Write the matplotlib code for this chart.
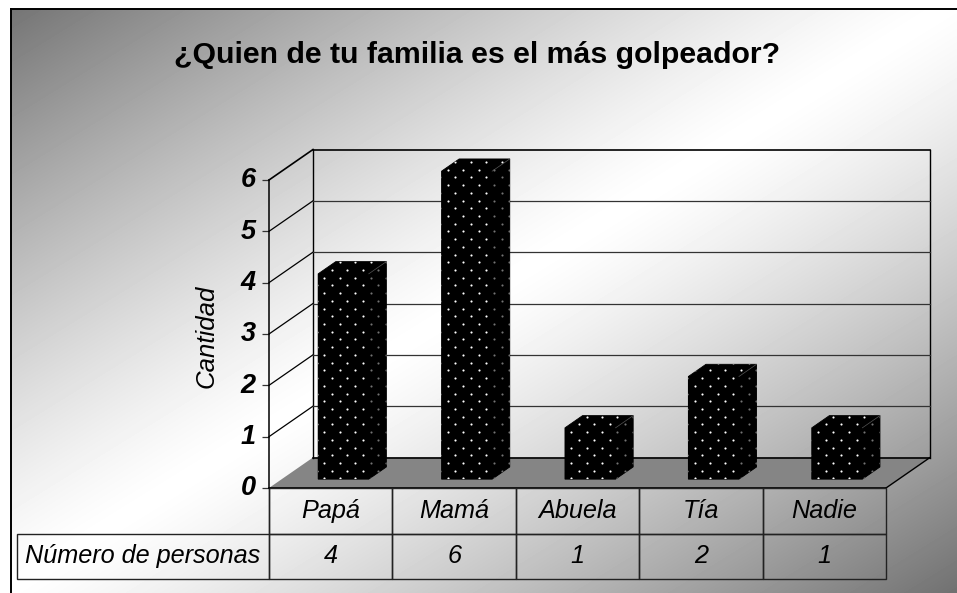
# coding=utf-8
import matplotlib
matplotlib.use('Agg')
import matplotlib.pyplot as plt
import matplotlib.transforms as mtrans
import numpy as np
from matplotlib.patches import Polygon

plt.rcParams['font.family'] = ['Liberation Sans', 'DejaVu Sans']

categories = ['Papá', 'Mamá', 'Abuela', 'Tía', 'Nadie']
values = [4, 6, 1, 2, 1]
row_label = 'Número de personas'
title = '¿Quien de tu familia es el más golpeador?'
y_label = 'Cantidad'
y_ticks = [0, 1, 2, 3, 4, 5, 6]

W, H = 957, 593
fig = plt.figure(figsize=(W / 100, H / 100), dpi=100, facecolor='white')

# background gradient, dark corners top left / bottom right, white across the middle
bg = fig.add_axes([10.5 / W, 0, (W - 10.5) / W, 1 - 8.5 / H])
yy, xx = np.mgrid[8:H, 10:W]
t = np.abs((xx / W + yy / H) - 1.0)
bg.imshow(1 - 0.56 * t ** 1.25, cmap='gray', vmin=0, vmax=1, aspect='auto')
bg.set_xticks([])
bg.set_yticks([])
for s in ['right', 'bottom']:
    bg.spines[s].set_visible(False)
for s in ['left', 'top']:
    bg.spines[s].set_linewidth(1.4)

# axes = front plane of the 3d box
left, right, y0, y6 = 269, 886, 488, 180
ax = fig.add_axes([left / W, 1 - y0 / H, (right - left) / W, (y0 - y6) / H])
ax.patch.set_visible(False)
ax.set_xlim(0, len(categories))
ax.set_ylim(0, 6)
for s in ['top', 'right', 'bottom']:
    ax.spines[s].set_visible(False)
ax.spines['left'].set_linewidth(1.1)
ax.spines['left'].set_bounds(0, 6)

# depth of the box in data units
DX = 44 / ((right - left) / len(categories))
DY = 30.5 / ((y0 - y6) / 6)


def pt(x, y, d):
    return (x + d * DX, y + d * DY)


# floor
ax.add_patch(Polygon([pt(0, 0, 0), pt(5, 0, 0), pt(5, 0, 1), pt(0, 0, 1)], fc='#858585', ec='none', clip_on=False))
ax.plot(*zip(pt(0, 0, 0), pt(5, 0, 0)), color='black', lw=1.2, clip_on=False)
ax.plot(*zip(pt(5, 0, 0), pt(5, 0, 1)), color='black', lw=1, clip_on=False)
ax.plot(*zip(pt(0, 0, 1), pt(5, 0, 1)), color='black', lw=1.2, clip_on=False)
# walls
ax.plot(*zip(pt(0, 0, 1), pt(0, 6, 1)), color='black', lw=1, clip_on=False)
ax.plot(*zip(pt(5, 0, 1), pt(5, 6, 1)), color='black', lw=1, clip_on=False)
for v in y_ticks[1:]:
    lw = 1.2 if v == 6 else 0.9
    c = 'black' if v == 6 else '#333333'
    ax.plot(*zip(pt(0, v, 0), pt(0, v, 1)), color='black', lw=0.9 if v < 6 else 1.2, clip_on=False)
    ax.plot(*zip(pt(0, v, 1), pt(5, v, 1)), color=c, lw=lw, clip_on=False)

# bars
w = 0.41
d0, d1 = 0.29, 0.69
xs = np.arange(len(categories)) + 0.5 - w / 2
ax.bar(xs + d0 * DX, values, w, bottom=d0 * DY, align='edge', color='black', zorder=3, clip_on=False)

# dot texture, fixed lattice in figure pixels
lx = np.arange(0, W, 15.43) + 324.3 % 15.43
ly = np.arange(0, H, 15.44) + 277.7 % 15.44
gx, gy = np.meshgrid(lx, ly)
dots = np.vstack([np.c_[gx.ravel(), gy.ravel()], np.c_[gx.ravel() + 7.72, gy.ravel() + 7.72]])
dots = np.c_[dots[:, 0], H - dots[:, 1]]

for x, v in zip(xs, values):
    x1 = x + w
    shape = Polygon([pt(x, 0, d0), pt(x1, 0, d0), pt(x1, 0, d1), pt(x1, v, d1), pt(x, v, d1), pt(x, v, d0)],
                    fc='black', ec='black', lw=0.6, zorder=3, clip_on=False)
    ax.add_patch(shape)
    sc = ax.scatter(dots[:, 0], dots[:, 1], s=2.4, c='white', linewidths=0, zorder=4, transform=None)
    sc.set_clip_path(shape)
    # the side face is darker
    side = Polygon([pt(x1, 0, d0), pt(x1, 0, d1), pt(x1, v, d1), pt(x1, v, d0)], fc='black', alpha=0.55, ec='none',
                   zorder=5, clip_on=False)
    ax.add_patch(side)
    ax.plot(*zip(pt(x1, v, d0), pt(x1, v, d1)), color='#555555', lw=0.5, zorder=6, clip_on=False)

ax.set_xticks([])
ax.set_yticks(y_ticks)
ax.set_yticklabels([str(i) for i in y_ticks], fontsize=19.5, fontweight='bold', fontstyle='italic')
ax.tick_params(axis='y', length=5, width=0.9, color='#333333', pad=4.5)
ax.set_xlim(0, len(categories))
ax.set_ylim(0, 6)
# labels sit a little above their ticks
shift = mtrans.ScaledTranslation(0, 2 / 72, fig.dpi_scale_trans)
for lab in ax.get_yticklabels():
    lab.set_transform(lab.get_transform() + shift)

fig.text(207 / W, 1 - 336 / H, y_label, rotation=90, ha='center', va='center', fontsize=18.5, fontstyle='italic')
fig.text(477 / W, 1 - 55 / H, title, ha='center', va='center', fontsize=21.8, fontweight='bold')

# data table under the chart
label_w = (left - 17) / (right - left)
tbl_h = (579 - y0) / (y0 - y6)
cols = [[''] + categories, [row_label] + [str(v) for v in values]]
col_w = [label_w] + [1 / len(categories)] * len(categories)
tb = ax.table(cellText=cols, colWidths=col_w, bbox=[-label_w, -tbl_h, 1 + label_w, tbl_h], cellLoc='center',
              zorder=2)
tb.auto_set_font_size(False)
for (r, c), cell in tb.get_celld().items():
    cell.set_facecolor('none')
    cell.set_edgecolor('#222222')
    cell.set_linewidth(1.0)
    cell.PAD = 0.01
    cell.get_text().set_fontsize(18.2)
    cell.get_text().set_fontstyle('italic')
    if r == 0 and c == 0:
        cell.visible_edges = 'R'

fig.savefig('out.png', dpi=100)
